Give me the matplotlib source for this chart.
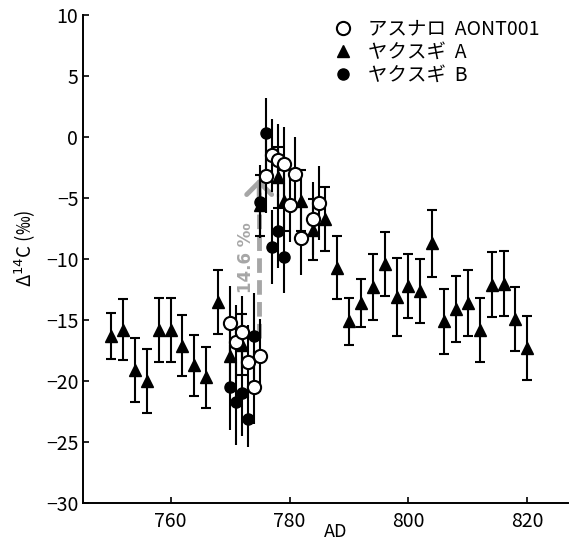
import matplotlib
matplotlib.use("Agg")
import matplotlib.pyplot as plt
from matplotlib.lines import Line2D

plt.rcParams['font.family'] = ['Noto Sans CJK JP', 'DejaVu Sans']

# ヤクスギ A (triangles)
yearA = [750, 752, 754, 756, 758, 760, 762, 764, 766, 768, 770, 772, 775, 778, 779,
         782, 784, 786, 788, 790, 792, 794, 796, 798, 800, 802, 804, 806, 808, 810,
         812, 814, 816, 818, 820]
valA = [-16.3, -15.8, -19.1, -20.0, -15.8, -15.8, -17.1, -18.7, -19.7, -13.5, -17.9, -17.0, -5.6, -3.3, -5.2,
        -5.2, -7.6, -6.7, -10.7, -15.1, -13.6, -12.3, -10.4, -13.1, -12.2, -12.6, -8.7, -15.1, -14.1, -13.6,
        -15.8, -12.1, -12.0, -14.9, -17.3]
errA = [1.9, 2.5, 2.6, 2.6, 2.6, 2.6, 2.5, 2.5, 2.5, 2.6, 2.5, 2.5, 2.5, 2.5, 2.5,
        2.5, 2.5, 2.6, 2.6, 1.9, 2.0, 2.7, 2.6, 3.2, 2.6, 2.6, 2.75, 2.65, 2.7, 2.7,
        2.65, 2.65, 2.65, 2.6, 2.6]

# アスナロ AONT001 (open circles)
yearO = [770, 771, 772, 773, 774, 775, 776, 777, 778, 779, 780, 781, 782, 784, 785]
valO = [-15.2, -16.8, -16.0, -18.4, -20.5, -17.9, -3.2, -1.5, -1.9, -2.2, -5.6, -3.0, -8.3, -6.7, -5.4]
errO = [3.0, 3.0, 3.0, 3.0, 3.0, 3.0, 3.0, 3.0, 3.0, 3.0, 3.0, 3.0, 3.0, 3.0, 3.0]

# ヤクスギ B (filled circles)
yearB = [770, 771, 772, 773, 774, 775, 776, 777, 778, 779]
valB = [-20.5, -21.7, -21.0, -23.1, -16.3, -5.3, 0.3, -9.0, -7.7, -9.8]
errB = [3.5, 3.5, 3.5, 2.3, 3.5, 3.0, 2.9, 3.0, 3.0, 3.0]

labels = ['アスナロ  AONT001', 'ヤクスギ  A', 'ヤクスギ  B']

fig = plt.figure(figsize=(5.70, 5.41), dpi=100)
ax = fig.add_axes([0.146, 0.070, 0.85, 0.902])

ax.errorbar(yearA, valA, yerr=errA, fmt='^', color='black', mfc='black', mec='black',
            ms=8.5, elinewidth=1.5, capsize=3.5, capthick=1.5, zorder=2)
ax.errorbar(yearB, valB, yerr=errB, fmt='o', color='black', mfc='black', mec='black',
            ms=8, elinewidth=1.5, capsize=0, zorder=3)
ax.errorbar(yearO, valO, yerr=errO, fmt='o', color='black', mfc='white', mec='black',
            ms=9.5, mew=1.5, elinewidth=1.5, capsize=0, zorder=4)

# 14.6 permil jump: dashed shaft + open arrow head
gray = '#a6a6a6'
ax.plot([774.9, 774.9], [-16.5, -4.3], color=gray, lw=3.5, ls=(0, (3, 1.5)), zorder=1)
ax.annotate('', xy=(774.9, -3.4), xytext=(774.9, -5.0),
            arrowprops=dict(arrowstyle='->, head_length=0.9, head_width=0.9', color=gray,
                            lw=3.5, shrinkA=0, shrinkB=0), zorder=1)
ax.text(772.6, -9.9, '14.6 ‰', rotation=90, color=gray, fontsize=12,
        fontweight='bold', ha='center', va='center', family=['DejaVu Sans'])

ax.set_xlim(745.3, 826.8)
ax.set_ylim(-30, 10)
ax.set_xticks([760, 780, 800, 820])
ax.set_yticks([-30, -25, -20, -15, -10, -5, 0, 5, 10])
ax.set_yticklabels(['\u221230', '\u221225', '\u221220', '\u221215', '\u221210', '\u22125', '0', '5', '10'])
ax.tick_params(direction='in', length=4, width=1.2, labelsize=14)
ax.tick_params(axis='x', pad=6)
for s in ['top', 'right']:
    ax.spines[s].set_visible(False)
for s in ['left', 'bottom']:
    ax.spines[s].set_linewidth(1.4)

ax.set_xlabel('AD', fontsize=13)
ax.xaxis.set_label_coords(0.522, -0.041)
ax.set_ylabel('Δ$^{14}$C (‰)', fontsize=13.5)
ax.yaxis.set_label_coords(-0.093, 0.523)

handles = [
    Line2D([], [], marker='o', ls='none', mfc='white', mec='black', mew=1.5, ms=9.5),
    Line2D([], [], marker='^', ls='none', color='black', ms=8.5),
    Line2D([], [], marker='o', ls='none', color='black', ms=8),
]
fig.legend(handles, labels, loc='upper left', bbox_to_anchor=(0.584, 0.966),
           frameon=False, fontsize=14, handlelength=1.0, handletextpad=0.8,
           labelspacing=0.12, borderpad=0, borderaxespad=0)

fig.savefig('out.png', dpi=100)
